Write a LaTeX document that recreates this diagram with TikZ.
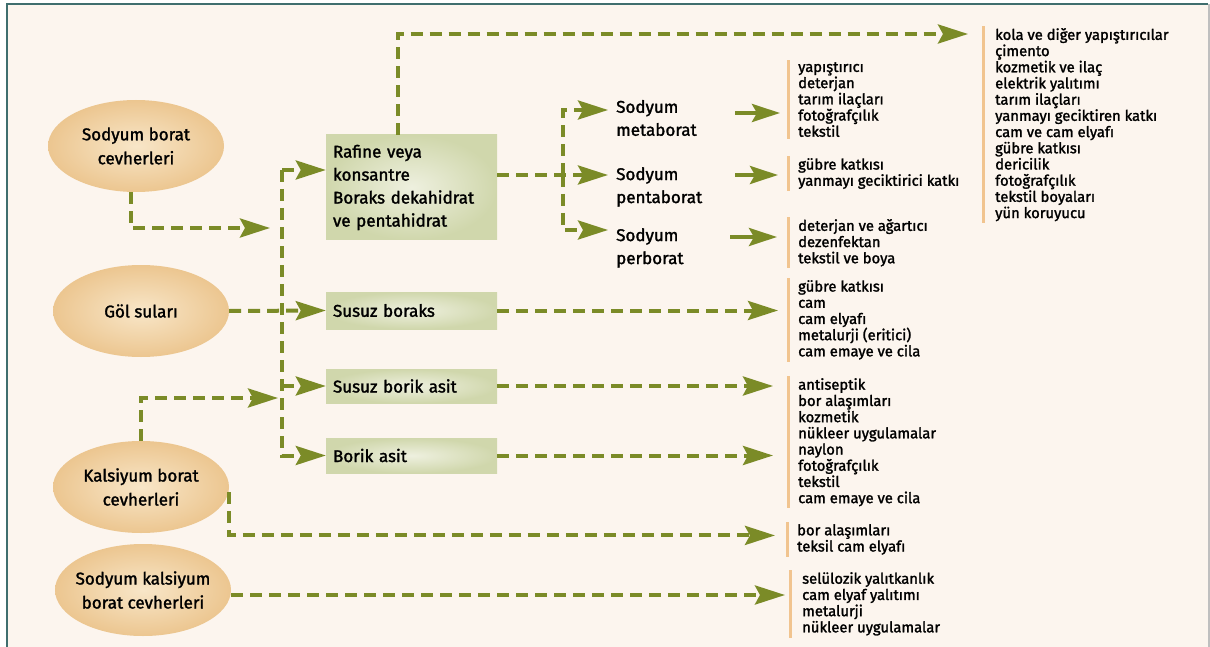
\documentclass[tikz,border=0pt]{standalone}
\usepackage{fontspec}
\setmainfont{Fira Sans}[FakeBold=1.6]
\usetikzlibrary{arrows.meta,shapes.geometric}

\definecolor{flowgreen}{HTML}{7B8B27}
\definecolor{bgcream}{HTML}{FCF5EE}
\definecolor{framecol}{HTML}{3F6E6E}
\definecolor{orein}{HTML}{F8E6C8}
\definecolor{oreout}{HTML}{ECC690}
\definecolor{boxin}{HTML}{EEF0DF}
\definecolor{boxout}{HTML}{D0D7AC}
\definecolor{barcol}{HTML}{F1C48F}

\begin{document}
\begin{tikzpicture}[x=1pt,y=-1pt,>=latex,
    flow/.style={draw=flowgreen,line width=4pt,dash pattern=on 12pt off 7pt,
        -{Stealth[length=30pt,width=19pt,inset=5pt]}},
    stub/.style={draw=flowgreen,line width=4pt,
        -{Stealth[length=28pt,width=18pt,inset=5pt]}},
    ore/.style={ellipse,shade,inner color=orein,outer color=oreout,
        minimum width=176pt,minimum height=92pt,inner xsep=-6pt,align=center,
        font=\fontsize{17}{24}\selectfont},
    stage/.style={rectangle,shade,inner color=boxin,outer color=boxout,
        minimum width=171pt,text width=157pt,inner xsep=7pt,align=left,
        font=\fontsize{17}{23}\selectfont},
    salt/.style={anchor=west,align=left,inner sep=0pt,
        font=\fontsize{17}{23}\selectfont},
    uses/.style={anchor=north west,align=left,inner xsep=11pt,inner ysep=2pt,
        font=\fontsize{14.8}{16.2}\selectfont,
        path picture={\draw[barcol,line width=3pt]
            ([xshift=1.5pt]path picture bounding box.north west) --
            ([xshift=1.5pt]path picture bounding box.south west);}}]

     \useasboundingbox (0,0) rectangle (1210,647);
     % background and frame
     \fill[bgcream] (7,4) rectangle (1208,647);
     \draw[framecol,line width=2pt] (7,647) -- (7,4) -- (1208,4);
     \draw[black!25,line width=1.5pt] (1209,4) -- (1209,647);

     % ores
     \node[ore] (e1) at (136,146) {Sodyum borat\\cevherleri};
     \node[ore] (e2) at (141,311) {Göl suları};
     \node[ore] (e3) at (141,487) {Kalsiyum borat\\cevherleri};
     \node[ore] (e4) at (143,590) {Sodyum kalsiyum\\borat cevherleri};

     % products
     \node[stage,minimum height=105pt] (b1) at (411.5,187.5)
          {Rafine veya\\konsantre\\Boraks dekahidrat\\ve pentahidrat};
     \node[stage,minimum height=37pt] (b2) at (411.5,310.5) {Susuz boraks};
     \node[stage,minimum height=34pt] (b3) at (411.5,386) {Susuz borik asit};
     \node[stage,minimum height=35pt] (b4) at (411.5,455.5) {Borik asit};

     % sodium salts
     \node[salt] (s1) at (616,118) {Sodyum\\metaborat};
     \node[salt] (s2) at (616,187) {Sodyum\\pentaborat};
     \node[salt] (s3) at (616,248) {Sodyum\\perborat};

     % uses
     \node[uses] (lA) at (787,60) {yapıştırıcı\\deterjan\\tarım ilaçları\\fotoğrafçılık\\tekstil};
     \node[uses] (lB) at (787,156) {gübre katkısı\\yanmayı geciktirici katkı};
     \node[uses] (lC) at (787,217) {deterjan ve ağartıcı\\dezenfektan\\tekstil ve boya};
     \node[uses,inner xsep=13pt] (lD) at (982,26) {kola ve diğer yapıştırıcılar\\çimento\\kozmetik ve ilaç\\elektrik yalıtımı\\tarım ilaçları\\yanmayı geciktiren katkı\\cam ve cam elyafı\\gübre katkısı\\dericilik\\fotoğrafçılık\\tekstil boyaları\\yün koruyucu};
     \node[uses] (lE) at (787,278) {gübre katkısı\\cam\\cam elyafı\\metalurji (eritici)\\cam emaye ve cila};
     \node[uses] (lF) at (787,376) {antiseptik\\bor alaşımları\\kozmetik\\nükleer uygulamalar\\naylon\\fotoğrafçılık\\tekstil\\cam emaye ve cila};
     \node[uses] (lG) at (786,522) {bor alaşımları\\teksil cam elyafı};
     \node[uses,inner xsep=13pt] (lH) at (789,570) {selülozik yalıtkanlık\\cam elyaf yalıtımı\\metalurji\\nükleer uygulamalar};

     % junction points
     \coordinate (t1) at (282,170);
     \coordinate (j1) at (270,228);
     \coordinate (j3) at (278,398);
     \coordinate (k1) at (968,34);
     \coordinate (f1) at (563,110);
     \coordinate (f2) at (563,175);
     \coordinate (f3) at (563,230);
     \coordinate (m1) at (735,113);
     \coordinate (m2) at (735,175);
     \coordinate (m3) at (730,237);

     % ores to products
     \draw[flow] ([xshift=-5pt]e1.south) |- (j1);
     \draw[flow] (t1) -- (t1 -| b1.west);
     \draw[flow] (t1) |- (b4.west);
     \draw[flow] (t1 |- b3.west) -- (b3.west);
     \draw[flow] (e2.east) -- (b2.west);
     \draw[flow] (e3.north) |- (j3);

     % borax to salts
     \draw[flow] ([xshift=-14pt]b1.north) |- (k1);
     \draw[flow,shorten >=8pt] (b1.east |- f2) -- (f2 -| s2.west);
     \draw[flow,shorten >=8pt] (f2) |- (f1 -| s1.west);
     \draw[flow,shorten >=8pt] (f2) |- (f3 -| s3.west);

     % salts to uses
     \draw[stub,shorten >=7pt] (m1) -- (m1 -| lA.west);
     \draw[stub,shorten >=9pt] (m2) -- (m2 -| lB.west);
     \draw[stub,shorten >=10pt] (m3) -- (m3 -| lC.west);

     % products to uses
     \draw[flow,shorten >=9pt] (b2.east) -- (b2.east -| lE.west);
     \draw[flow,shorten >=14pt] (b3.east) -- (b3.east -| lF.west);
     \draw[flow,shorten >=14pt] (b4.east) -- (b4.east -| lF.west);
     \draw[flow,shorten >=11pt] ([yshift=-5pt]e3.east) |- ([yshift=4pt]lG.west);
     \draw[flow,shorten >=4pt] ([yshift=-5pt]e4.east) -- ([yshift=-5pt]e4.east -| lH.west);
\end{tikzpicture}
\end{document}
